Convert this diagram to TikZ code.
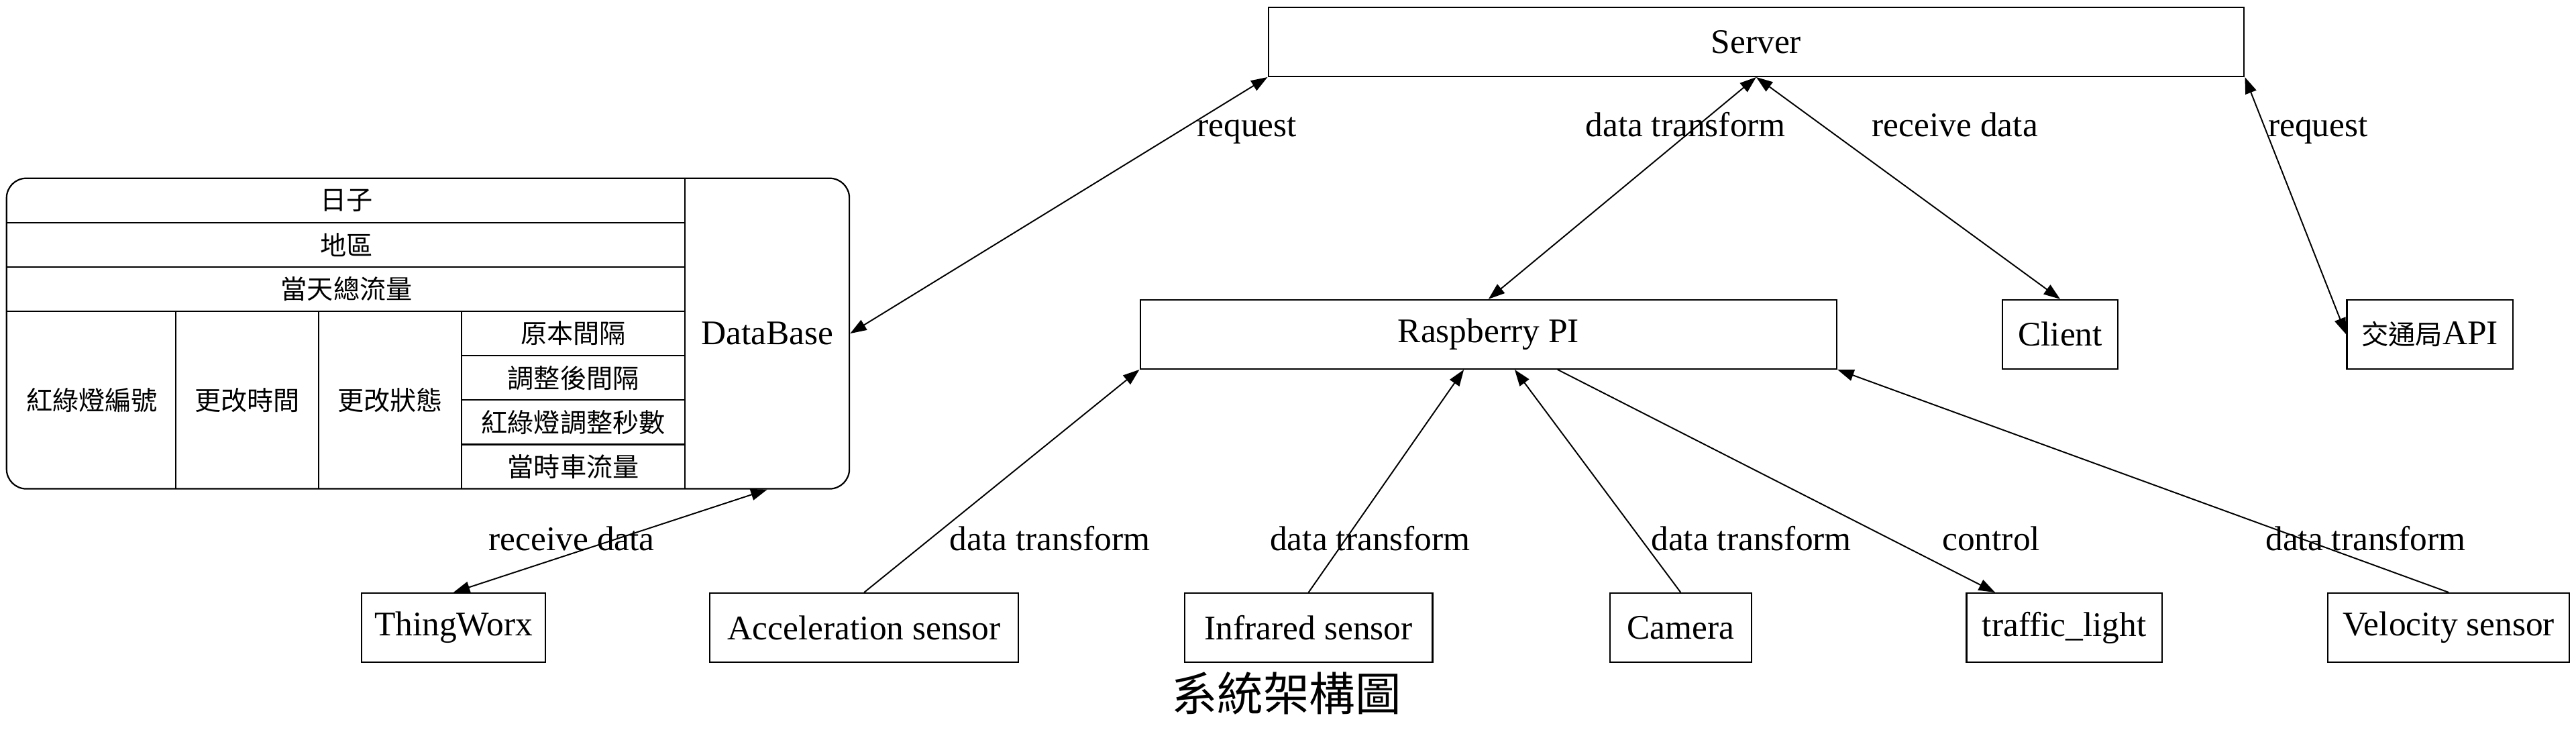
\documentclass[tikz,border=0pt]{standalone}
\usepackage{fontspec}
\setmainfont{Liberation Serif}
\newfontfamily\cjk{Noto Sans CJK TC}
\usetikzlibrary{arrows.meta}

\begin{document}
\begin{tikzpicture}[x=1pt,y=-1pt,line width=0.9pt,
    box/.style={draw,inner sep=0pt,minimum height=42pt,font=\fontsize{21}{24}\selectfont},
    cell/.style={inner sep=0pt,font=\fontsize{16}{19}\selectfont\cjk},
    lbl/.style={inner sep=0pt,anchor=base,font=\fontsize{21}{24}\selectfont},
    link/.style={line width=0.8pt,-{Triangle[length=10pt,width=7pt]}},
    both/.style={line width=0.8pt,{Triangle[length=10pt,width=7pt]}-{Triangle[length=10pt,width=7pt]}}]
    \useasboundingbox (0,0) rectangle (1568,449);

    \node[box,minimum width=594pt] (server) at (1069,25.5) {Server};
    \node[box,minimum width=424pt] (rpi) at (906,203.5) {Raspberry PI};
    \node[box,minimum width=70pt] (client) at (1254,203.5) {Client};
    \node[box,minimum width=101pt] (api) at (1479,203.5) {{\fontsize{16.5}{19}\selectfont\cjk 交通局}API};

    \foreach \n/\x/\w/\t in {tw/276/112/ThingWorx, acc/526/188/Acceleration sensor,
        ir/796.5/151/Infrared sensor, cam/1023/86/Camera,
        tl/1256.5/119/traffic\_light, vel/1490.5/147/Velocity sensor} {
        \node[box,minimum width=\w pt] (\n) at (\x,382) {\t};
    }

    % database record
    \draw[rounded corners=12pt] (4,108.5) rectangle (517,297.5);
    \draw (417,108.5) -- (417,297.5);
    \foreach \y in {135.5,162.5,189.5} {
        \draw (4,\y) -- (417,\y);
    }
    \foreach \x in {107,194,281} {
        \draw (\x,189.5) -- (\x,297.5);
    }
    \foreach \y in {216.5,243.5,270.5} {
        \draw (281,\y) -- (417,\y);
    }
    \foreach \n/\x/\y/\t in {day/211/122/日子, area/211/149/地區, total/211/176/當天總流量,
        lid/56/243.5/紅綠燈編號, ctime/150.5/243.5/更改時間, cstate/237.5/243.5/更改狀態,
        orig/349/203/原本間隔, adj/349/230/調整後間隔, secs/349/257/紅綠燈調整秒數,
        flow/349/284/當時車流量} {
        \node[cell] (\n) at (\x,\y) {\t};
    }
    \node[inner sep=0pt,minimum width=100pt,minimum height=189pt,font=\fontsize{21}{24}\selectfont] (dbcol) at (467,203) {DataBase};

    \draw[both] (server.south west) -- (dbcol.east) node[lbl] at (759,83) {request};
    \draw[both] (server.south) -- (rpi.north) node[lbl] at (1026,83) {data transform};
    \draw[both] (server.south) -- (client.north) node[lbl] at (1190,83) {receive data};
    \draw[both] (server.south east) -- (api.west) node[lbl] at (1411,83) {request};
    \draw[both] (dbcol.south) -- (tw.north) node[lbl] at (348,335) {receive data};
    \draw[link] (acc.north) -- (rpi.south west) node[lbl] at (639,335) {data transform};
    \draw[link] (ir.north) -- (rpi) node[lbl] at (834,335) {data transform};
    \draw[link] (cam.north) -- (rpi) node[lbl] at (1066,335) {data transform};
    \draw[link] (rpi) -- (tl) node[lbl] at (1212,335) {control};
    \draw[link] (vel.north) -- (rpi.south east) node[lbl] at (1440,335) {data transform};

    \node[font=\fontsize{28}{32}\selectfont\cjk] (title) at (783,422) {系統架構圖};
\end{tikzpicture}
\end{document}
